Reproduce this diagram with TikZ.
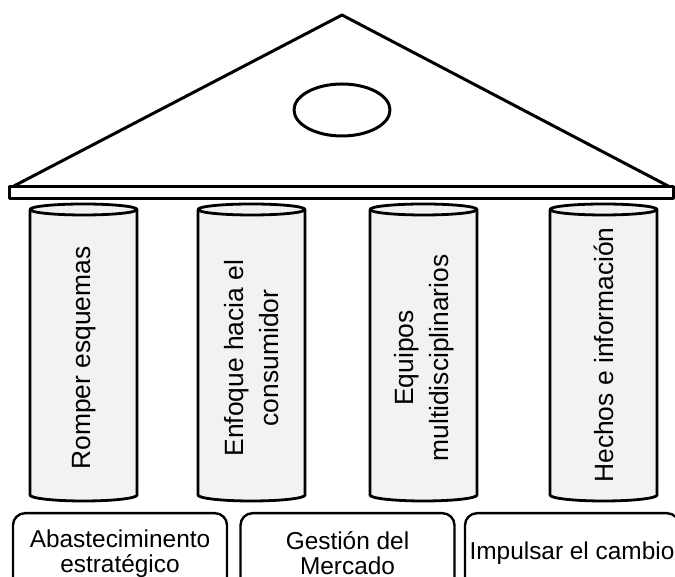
\documentclass[tikz,border=0pt]{standalone}
\usepackage{fontspec}
\setmainfont{Liberation Sans}
\begin{document}
\begin{tikzpicture}[x=0.5pt, y=0.5pt, line join=round,
  pillar/.style={fill=black!5, line width=1.4pt},
  pillartext/.style={rotate=90, align=center, font=\fontsize{13.2}{17.5}\selectfont},
  basebox/.style={draw, rounded corners=6pt, line width=1.2pt, minimum width=107pt, minimum height=40pt, inner xsep=0.5pt, align=center, font=\fontsize{12.2}{12.5}\selectfont}]
\useasboundingbox (0,0) rectangle (675,577);

% roof
\draw [fill=white, line width=1.5pt](12,390)--(342,562)--(670,390)--cycle;
\draw [line width=1.5pt](342,467) ellipse [x radius=48, y radius=26];
\draw [fill=white, line width=1.5pt](9,378) rectangle (673,390);

% pillars
\foreach \xl in {30,198,370,550}
{
  \draw [pillar] (\xl,367.5)--(\xl,82) arc[start angle=180, end angle=360, x radius=53.5, y radius=6]--(\xl+107,367.5);
  \draw [pillar] (\xl+53.5,367.5) ellipse [x radius=53.5, y radius=5.5];
}

\node [pillartext] (romper) at (84,219) {Romper esquemas};
\node [pillartext] (enfoque) at (252,219) {Enfoque hacia el\\consumidor};
\node [pillartext] (equipos) at (424,219) {Equipos\\multidisciplinarios};
\node [pillartext] (hechos) at (604,222) {Hechos e información};

% base
\node [basebox, anchor=north] (abast) at (120,65) {Abasteciminento\\estratégico};
\node [basebox, anchor=north] (gestion) at (347.5,65) {Gestión del\\Mercado};
\node [basebox, anchor=north] (impulsar) at (572,65) {Impulsar el cambio};
\end{tikzpicture}
\end{document}
